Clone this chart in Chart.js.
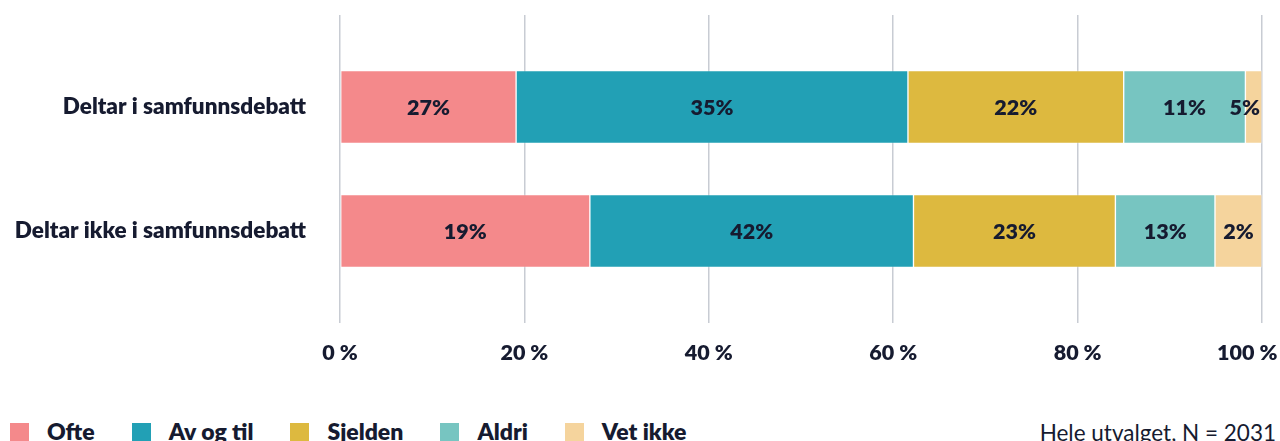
<!DOCTYPE html>
<html>
<head>
<meta charset="utf-8">
<script src="https://cdn.jsdelivr.net/npm/chart.js@4.4.1/dist/chart.umd.min.js"></script>
<style>
html,body{margin:0;padding:0;background:#fff;overflow:hidden;width:1280px;height:441px;}
#wrap{position:relative;width:1280px;height:441px;overflow:hidden;}
#chartBox{position:absolute;left:0;top:0;width:1280px;height:390px;}
#legend{position:absolute;left:10px;top:420px;display:flex;font:800 23px Lato;line-height:23px;color:#161b30;white-space:nowrap;}
.item{display:flex;align-items:flex-start;margin-right:37px;}
.sw{width:19px;height:19px;margin-top:3px;margin-right:18px;flex:none;}
#note{position:absolute;right:4px;top:421px;font:400 22.5px Lato;line-height:23px;color:#161b30;white-space:nowrap;}
</style>
</head>
<body>
<div id="wrap">
  <div id="chartBox"><canvas id="c"></canvas></div>
  <div id="legend"></div>
  <div id="note">Hele utvalget, N = 2031</div>
</div>
<script>
// ---- data ----
const categories = ['Deltar i samfunnsdebatt', 'Deltar ikke i samfunnsdebatt'];
const seriesNames = ['Ofte', 'Av og til', 'Sjelden', 'Aldri', 'Vet ikke'];
const seriesColors = ['#f4898b', '#22a0b5', '#ddb93f', '#77c5c1', '#f5d49d'];

// bar lengths as drawn (share of each row, %)
const ofte    = [19.1, 27.1];
const avOgTil = [42.5, 35.1];
const sjelden = [23.4, 21.9];
const aldri   = [13.2, 10.8];
const vetIkke = [1.8, 5.1];

// printed segment labels
const ofteLabels    = ['27%', '19%'];
const avOgTilLabels = ['35%', '42%'];
const sjeldenLabels = ['22%', '23%'];
const aldriLabels   = ['11%', '13%'];
const vetIkkeLabels = ['5%', '2%'];

const xTicks = [0, 20, 40, 60, 80, 100];
const xTickLabels = ['0 %', '20 %', '40 %', '60 %', '80 %', '100 %'];

// ---- build ----
const seriesValues = [ofte, avOgTil, sjelden, aldri, vetIkke];
const seriesLabels = [ofteLabels, avOgTilLabels, sjeldenLabels, aldriLabels, vetIkkeLabels];
const TEXT = '#161b30';
const GRID = '#c8ccd3';

const datasets = seriesNames.map((name, d) => ({
  label: name,
  data: seriesValues[d],
  backgroundColor: seriesColors[d],
  borderColor: 'rgba(255,255,255,0.25)',
  borderWidth: 1,
  borderSkipped: false,
  barThickness: 73,
  segLabels: seriesLabels[d]
}));

const barLabelPlugin = {
  id: 'barLabels',
  afterDatasetsDraw(chart) {
    const ctx = chart.ctx;
    const n = chart.data.datasets.length;
    ctx.save();
    ctx.font = '800 21.5px Lato';
    ctx.fillStyle = TEXT;
    ctx.textAlign = 'center';
    ctx.textBaseline = 'middle';
    chart.data.datasets.forEach((ds, d) => {
      const meta = chart.getDatasetMeta(d);
      meta.data.forEach((bar, i) => {
        const p = bar.getProps(['x', 'y', 'base'], true);
        const text = ds.segLabels[i];
        const w = ctx.measureText(text).width;
        let cx = (p.x + p.base) / 2;
        const rowEnd = chart.getDatasetMeta(n - 1).data[i].x - 2;
        if (cx + w / 2 > rowEnd) cx = rowEnd - w / 2;
        ctx.fillText(text, cx, p.y + 1);
      });
    });
    ctx.restore();
  }
};

function noSidePad(s) { s.paddingLeft = 0; s.paddingRight = 0; s.paddingTop = 0; s.paddingBottom = 0; }

new Chart(document.getElementById('c'), {
  type: 'bar',
  data: {labels: categories, datasets},
  plugins: [barLabelPlugin],
  options: {
    indexAxis: 'y',
    responsive: true,
    maintainAspectRatio: false,
    animation: false,
    layout: {padding: {top: 15, right: 18, left: 0, bottom: 0}},
    plugins: {legend: {display: false}, tooltip: {enabled: false}},
    scales: {
      x: {
        type: 'linear', position: 'bottom', min: 0, max: 100, stacked: true,
        grid: {color: GRID, lineWidth: 1.5, drawTicks: true, tickLength: 30},
        border: {display: false},
        ticks: {
          stepSize: 20, padding: 17, color: TEXT, autoSkip: false, maxRotation: 0,
          font: {family: 'Lato', weight: '800', size: 21.5},
          callback: (v) => {
            const k = xTicks.indexOf(v);
            if (k < 0) return '';
            return k === xTicks.length - 1 ? xTickLabels[k] + '\u2003\u2002\u2009' : xTickLabels[k];
          }
        },
        afterFit: (s) => { s.height = 97; noSidePad(s); }
      },
      xTop: {
        type: 'linear', position: 'top', axis: 'x', min: 0, max: 100,
        grid: {color: GRID, lineWidth: 1.5, drawOnChartArea: false, drawTicks: true, tickLength: 30},
        border: {display: false},
        ticks: {display: false, stepSize: 20},
        afterFit: (s) => { s.height = 30; noSidePad(s); }
      },
      y: {
        type: 'category', offset: true, stacked: true,
        grid: {display: false, drawTicks: false},
        border: {display: false},
        ticks: {
          padding: 34, color: TEXT, autoSkip: false,
          font: {family: 'Lato', weight: '800', size: 22.5}
        },
        afterFit: (s) => { s.width = 340; noSidePad(s); }
      }
    }
  }
});

// legend
const lg = document.getElementById('legend');
seriesNames.forEach((name, d) => {
  const it = document.createElement('div');
  it.className = 'item';
  const sw = document.createElement('div');
  sw.className = 'sw';
  sw.style.background = seriesColors[d];
  const tx = document.createElement('span');
  tx.textContent = name;
  it.appendChild(sw);
  it.appendChild(tx);
  lg.appendChild(it);
});
</script>
</body>
</html>
